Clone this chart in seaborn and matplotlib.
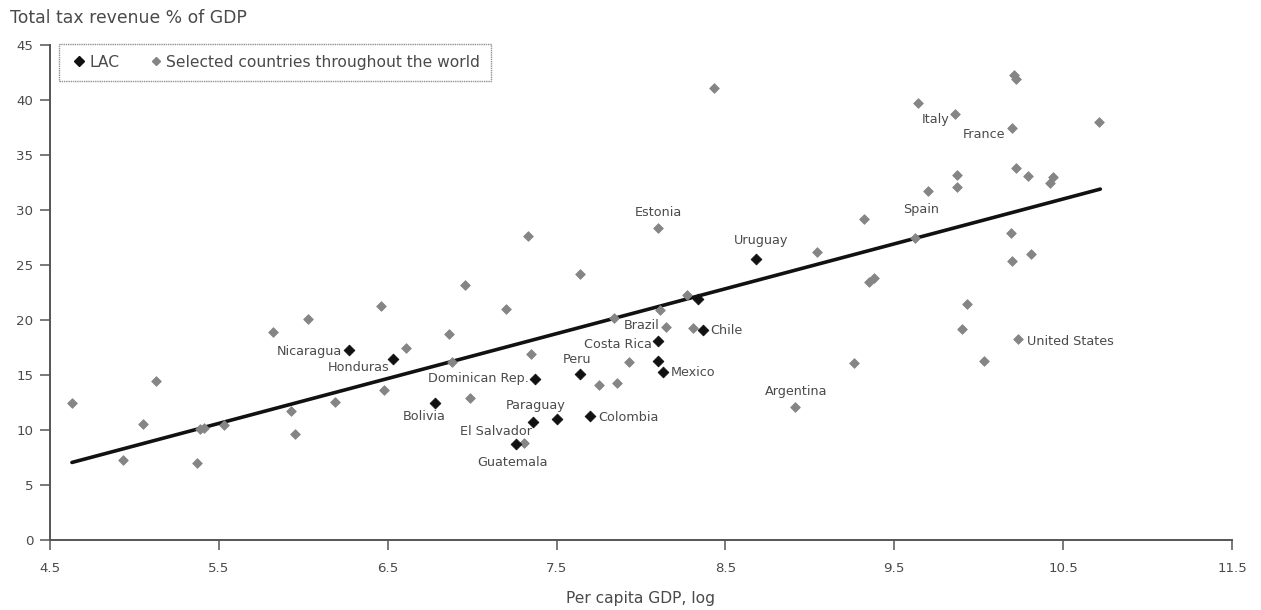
import matplotlib
matplotlib.use("Agg")
import matplotlib.pyplot as plt
from matplotlib.lines import Line2D
import seaborn as sns
import pandas as pd

# Latin America and the Caribbean
lac_x = [6.27, 6.53, 6.78, 7.37, 7.36, 7.50, 7.26, 7.64, 7.70, 8.10, 8.10, 8.13, 8.37, 8.34, 8.68]
lac_y = [17.27, 16.45, 12.45, 14.64, 10.73, 11.0, 8.73, 15.09, 11.27, 18.09, 16.27, 15.27, 19.09, 21.9, 25.55]

# Selected countries throughout the world
world_x = [4.63, 4.93, 5.05, 5.13, 5.37, 5.39, 5.41, 5.53, 5.82, 5.93, 5.95, 6.03, 6.19, 6.46,
           6.48, 6.61, 6.86, 6.88, 6.96, 6.99, 7.20, 7.33, 7.35, 7.31, 7.64, 7.75, 7.84, 7.86,
           7.93, 8.10, 8.11, 8.15, 8.27, 8.31, 8.43, 8.91, 9.04, 9.26, 9.32, 9.35, 9.38, 9.62,
           9.64, 9.70, 9.86, 9.87, 9.87, 9.90, 9.93, 10.03, 10.19, 10.20, 10.20, 10.21, 10.22,
           10.22, 10.23, 10.29, 10.31, 10.42, 10.44, 10.71]
world_y = [12.45, 7.27, 10.55, 14.45, 7.0, 10.1, 10.2, 10.45, 18.9, 11.7, 9.6, 20.1, 12.55, 21.3,
           13.6, 17.45, 18.7, 16.2, 23.2, 12.9, 21.0, 27.6, 16.9, 8.8, 24.2, 14.1, 20.2, 14.3,
           16.2, 28.4, 20.9, 19.4, 22.3, 19.3, 41.1, 12.1, 26.2, 16.1, 29.2, 23.5, 23.8, 27.5,
           39.7, 31.7, 38.7, 33.2, 32.1, 19.2, 21.5, 16.3, 27.9, 37.5, 25.4, 42.3, 41.9,
           33.8, 18.3, 33.1, 26.0, 32.5, 33.0, 38.0]

# Fitted trend
trend_x = [4.63, 10.72]
trend_y = [7.05, 31.9]

# Country labels: name, x, y
label_names = ["Nicaragua", "Honduras", "Bolivia", "Dominican Rep.", "El Salvador", "Paraguay",
               "Guatemala", "Peru", "Colombia", "Costa Rica", "Mexico", "Chile", "Uruguay",
               "Estonia", "Brazil", "Argentina", "Spain", "Italy", "France", "United States"]
label_x = [6.27, 6.53, 6.78, 7.37, 7.36, 7.50, 7.26, 7.64, 7.70, 8.10, 8.13, 8.37, 8.68,
           8.10, 8.15, 8.91, 9.62, 9.86, 10.20, 10.23]
label_y = [17.27, 16.45, 12.45, 14.64, 10.73, 11.0, 8.73, 15.09, 11.27, 18.09, 15.27, 19.09,
           25.55, 28.4, 19.4, 12.1, 27.5, 38.7, 37.5, 18.3]
# label placement: offset in pixels (dx, dy) and horizontal alignment
label_place = [(-7, -1, "right"), (-3, -8, "right"), (-11, -13, "center"), (-6, 0, "right"),
               (-1, -10, "right"), (-21, 14, "center"), (-4, -19, "center"), (-3, 15, "center"),
               (8, -1, "left"), (-6, -3, "right"), (8, 0, "left"), (7, 0, "left"),
               (5, 18, "center"), (0, 15, "center"), (-7, 1, "right"), (1, 15, "center"),
               (7, 28, "center"), (-6, -5, "right"), (-7, -7, "right"), (9, -3, "left")]

sns.set_style("white")
plt.rcParams["font.family"] = ["DejaVu Sans"]

TXT = "#4a4a4a"
GRAY = "#858585"
BLACK = "#111111"

fig = plt.figure(figsize=(12.61, 6.10), dpi=100)
ax = fig.add_axes([50 / 1261, 70 / 610, 1182 / 1261, 495 / 610])

world = pd.DataFrame({"x": world_x, "y": world_y})
lac = pd.DataFrame({"x": lac_x, "y": lac_y})
trend = pd.DataFrame({"x": trend_x, "y": trend_y})

sns.lineplot(data=trend, x="x", y="y", ax=ax, color=BLACK, linewidth=2.6, zorder=2)
sns.scatterplot(data=world, x="x", y="y", ax=ax, marker="D", s=24, color=GRAY,
                edgecolor=GRAY, linewidth=0.6, zorder=3)
sns.scatterplot(data=lac, x="x", y="y", ax=ax, marker="D", s=30, color=BLACK,
                edgecolor=BLACK, linewidth=0.6, zorder=4)

for name, x, y, (dx, dy, ha) in zip(label_names, label_x, label_y, label_place):
    ax.annotate(name, (x, y), xytext=(dx * 0.72, dy * 0.72), textcoords="offset points",
                ha=ha, va="center", fontsize=9.2, color=TXT, zorder=5)

ax.set_xlim(4.5, 11.5)
ax.set_ylim(0, 45)
ax.set_xticks([4.5, 5.5, 6.5, 7.5, 8.5, 9.5, 10.5, 11.5])
ax.set_xticklabels(["4.5", "5.5", "6.5", "7.5", "8.5", "9.5", "10.5", "11.5"])
ax.set_yticks(range(0, 50, 5))
ax.set_xlabel("Per capita GDP, log", fontsize=11.2, color=TXT, labelpad=11)
ax.set_ylabel("")

for side in ("top", "right"):
    ax.spines[side].set_visible(False)
for side in ("left", "bottom"):
    ax.spines[side].set_color("#555555")
    ax.spines[side].set_linewidth(1.4)
ax.tick_params(axis="both", direction="out", length=7, width=1.1, color="#555555",
               labelsize=9.6, labelcolor=TXT, pad=5, bottom=True, left=True)
ax.tick_params(axis="x", pad=9)

fig.text(10 / 1261, 1 - 18 / 610, "Total tax revenue % of GDP", fontsize=12.4, color=TXT,
         ha="left", va="center")

handles = [
    Line2D([], [], marker="D", linestyle="none", color=BLACK, markersize=5.2),
    Line2D([], [], marker="D", linestyle="none", color=GRAY, markersize=4.2),
]
leg = ax.legend(handles, ["LAC", "Selected countries throughout the world"], ncol=2,
                loc="upper left", bbox_to_anchor=(0.008, 1.002), borderaxespad=0,
                frameon=True, fancybox=False, fontsize=11.2, handletextpad=0.1,
                columnspacing=1.8, handlelength=1.1, borderpad=0.7)
leg.get_frame().set_edgecolor("#777777")
leg.get_frame().set_linewidth(1.0)
leg.get_frame().set_linestyle((0, (1, 0.6)))
for t in leg.get_texts():
    t.set_color(TXT)

fig.savefig("out.png", dpi=100)
